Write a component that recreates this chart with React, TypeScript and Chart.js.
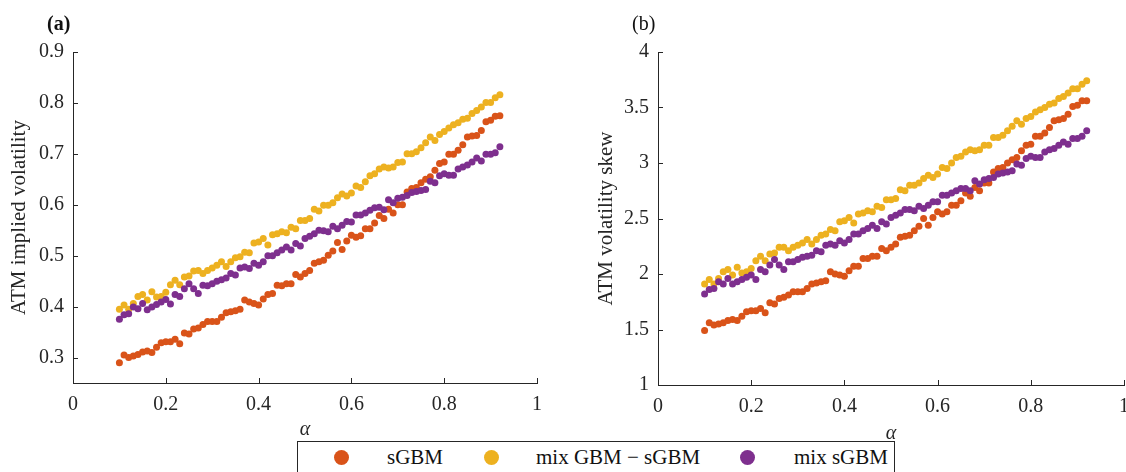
import React, { useEffect, useRef } from 'react';
import { Chart, registerables } from 'chart.js';

Chart.register(...registerables);

// ---------- data ----------
const alpha = [
  0.10, 0.11, 0.12, 0.13, 0.14, 0.15, 0.16, 0.17, 0.18, 0.19,
  0.20, 0.21, 0.22, 0.23, 0.24, 0.25, 0.26, 0.27, 0.28, 0.29,
  0.30, 0.31, 0.32, 0.33, 0.34, 0.35, 0.36, 0.37, 0.38, 0.39,
  0.40, 0.41, 0.42, 0.43, 0.44, 0.45, 0.46, 0.47, 0.48, 0.49,
  0.50, 0.51, 0.52, 0.53, 0.54, 0.55, 0.56, 0.57, 0.58, 0.59,
  0.60, 0.61, 0.62, 0.63, 0.64, 0.65, 0.66, 0.67, 0.68, 0.69,
  0.70, 0.71, 0.72, 0.73, 0.74, 0.75, 0.76, 0.77, 0.78, 0.79,
  0.80, 0.81, 0.82, 0.83, 0.84, 0.85, 0.86, 0.87, 0.88, 0.89,
  0.90, 0.91, 0.92,
];

// (a) ATM implied volatility
const volSGBM = [
  0.290, 0.305, 0.300, 0.303, 0.306, 0.311, 0.313, 0.310, 0.320, 0.329,
  0.331, 0.331, 0.336, 0.327, 0.348, 0.346, 0.356, 0.358, 0.365, 0.371,
  0.371, 0.371, 0.379, 0.388, 0.390, 0.392, 0.395, 0.413, 0.409, 0.406,
  0.403, 0.415, 0.424, 0.426, 0.442, 0.441, 0.445, 0.445, 0.463, 0.458,
  0.465, 0.471, 0.485, 0.488, 0.491, 0.501, 0.509, 0.526, 0.512, 0.529,
  0.540, 0.536, 0.539, 0.553, 0.553, 0.564, 0.579, 0.573, 0.591, 0.584,
  0.600, 0.600, 0.625, 0.632, 0.634, 0.643, 0.650, 0.655, 0.668, 0.681,
  0.684, 0.699, 0.699, 0.707, 0.718, 0.733, 0.735, 0.736, 0.746, 0.763,
  0.766, 0.774, 0.775,
];
const volMixGbmSgbm = [
  0.395, 0.403, 0.395, 0.406, 0.420, 0.424, 0.413, 0.429, 0.419, 0.420,
  0.428, 0.443, 0.452, 0.443, 0.458, 0.460, 0.470, 0.471, 0.465, 0.471,
  0.476, 0.481, 0.488, 0.479, 0.488, 0.496, 0.498, 0.507, 0.506, 0.525,
  0.527, 0.534, 0.521, 0.541, 0.543, 0.547, 0.545, 0.556, 0.553, 0.569,
  0.569, 0.573, 0.591, 0.588, 0.599, 0.599, 0.604, 0.614, 0.621, 0.617,
  0.623, 0.637, 0.634, 0.645, 0.657, 0.661, 0.670, 0.674, 0.672, 0.674,
  0.683, 0.684, 0.700, 0.700, 0.704, 0.712, 0.722, 0.733, 0.726, 0.738,
  0.744, 0.751, 0.757, 0.761, 0.768, 0.770, 0.779, 0.785, 0.792, 0.801,
  0.801, 0.810, 0.816,
];
const volMixSgbm = [
  0.375, 0.384, 0.386, 0.399, 0.396, 0.406, 0.394, 0.399, 0.404, 0.409,
  0.414, 0.405, 0.424, 0.420, 0.435, 0.445, 0.435, 0.426, 0.442, 0.441,
  0.445, 0.450, 0.453, 0.456, 0.465, 0.462, 0.476, 0.478, 0.475, 0.485,
  0.481, 0.488, 0.500, 0.500, 0.506, 0.511, 0.517, 0.511, 0.524, 0.519,
  0.534, 0.538, 0.543, 0.550, 0.549, 0.547, 0.558, 0.553, 0.560, 0.567,
  0.566, 0.580, 0.580, 0.584, 0.589, 0.594, 0.595, 0.590, 0.610, 0.604,
  0.613, 0.615, 0.618, 0.624, 0.626, 0.628, 0.630, 0.646, 0.643, 0.657,
  0.661, 0.658, 0.658, 0.670, 0.674, 0.678, 0.684, 0.692, 0.686, 0.699,
  0.699, 0.702, 0.714,
];

// (b) ATM volatility skew
const skewSGBM = [
  1.49, 1.56, 1.54, 1.55, 1.56, 1.58, 1.59, 1.58, 1.62, 1.66,
  1.67, 1.67, 1.69, 1.65, 1.74, 1.73, 1.78, 1.79, 1.81, 1.84,
  1.84, 1.84, 1.87, 1.91, 1.92, 1.93, 1.94, 2.02, 2.00, 1.99,
  1.98, 2.03, 2.07, 2.07, 2.14, 2.14, 2.16, 2.16, 2.23, 2.21,
  2.24, 2.27, 2.33, 2.34, 2.35, 2.39, 2.43, 2.50, 2.44, 2.51,
  2.56, 2.54, 2.56, 2.62, 2.62, 2.66, 2.73, 2.70, 2.78, 2.75,
  2.82, 2.82, 2.92, 2.95, 2.96, 3.00, 3.03, 3.05, 3.11, 3.16,
  3.17, 3.24, 3.24, 3.27, 3.32, 3.38, 3.39, 3.40, 3.44, 3.51,
  3.52, 3.56, 3.56,
];
const skewMixGbmSgbm = [
  1.91, 1.95, 1.91, 1.96, 2.02, 2.04, 1.99, 2.06, 2.01, 2.02,
  2.05, 2.12, 2.16, 2.12, 2.18, 2.19, 2.24, 2.24, 2.21, 2.24,
  2.26, 2.28, 2.31, 2.27, 2.31, 2.35, 2.36, 2.40, 2.39, 2.47,
  2.48, 2.51, 2.46, 2.54, 2.55, 2.57, 2.56, 2.61, 2.60, 2.67,
  2.67, 2.68, 2.76, 2.75, 2.80, 2.80, 2.82, 2.86, 2.89, 2.87,
  2.90, 2.96, 2.95, 3.00, 3.05, 3.06, 3.10, 3.12, 3.11, 3.12,
  3.16, 3.16, 3.23, 3.23, 3.25, 3.29, 3.33, 3.38, 3.35, 3.40,
  3.42, 3.46, 3.48, 3.50, 3.53, 3.54, 3.58, 3.60, 3.63, 3.67,
  3.67, 3.71, 3.74,
];
const skewMixSgbm = [
  1.82, 1.86, 1.87, 1.93, 1.91, 1.96, 1.91, 1.93, 1.95, 1.97,
  1.99, 1.95, 2.04, 2.02, 2.08, 2.13, 2.08, 2.04, 2.11, 2.11,
  2.13, 2.15, 2.16, 2.17, 2.21, 2.20, 2.26, 2.27, 2.26, 2.30,
  2.28, 2.31, 2.36, 2.36, 2.39, 2.41, 2.44, 2.41, 2.47, 2.45,
  2.51, 2.53, 2.55, 2.58, 2.58, 2.57, 2.61, 2.59, 2.62, 2.65,
  2.65, 2.71, 2.71, 2.73, 2.75, 2.77, 2.77, 2.75, 2.84, 2.81,
  2.85, 2.86, 2.87, 2.90, 2.91, 2.92, 2.93, 2.99, 2.98, 3.04,
  3.06, 3.05, 3.05, 3.10, 3.12, 3.13, 3.16, 3.19, 3.17, 3.22,
  3.22, 3.24, 3.29,
];

const xTicks = [0, 0.2, 0.4, 0.6, 0.8, 1];
const volTicks = [0.3, 0.4, 0.5, 0.6, 0.7, 0.8, 0.9];
const skewTicks = [1, 1.5, 2, 2.5, 3, 3.5, 4];

const seriesNames = ['sGBM', 'mix GBM \u2212 sGBM', 'mix sGBM'];
const seriesColors = ['#D95319', '#EDB120', '#7E2F8E'];

// ---------- styling ----------
const FONT = "'Liberation Serif', 'Times New Roman', serif";
const INK = '#262626';

const axisDecor = {
  id: 'axisDecor',
  afterDraw(chart: any) {
    const { ctx, chartArea, scales } = chart;
    const opts = chart.options.plugins.axisDecor || {};
    ctx.save();
    ctx.strokeStyle = INK;
    ctx.lineWidth = 1;
    const xs = scales.x;
    const ys = scales.y;
    ctx.beginPath();
    xs.ticks.forEach((t: any) => {
      const px = Math.round(xs.getPixelForValue(t.value)) + 0.5;
      ctx.moveTo(px, chartArea.bottom);
      ctx.lineTo(px, chartArea.bottom - 5);
    });
    ys.ticks.forEach((t: any) => {
      const py = Math.round(ys.getPixelForValue(t.value)) + 0.5;
      ctx.moveTo(chartArea.left, py);
      ctx.lineTo(chartArea.left + 5, py);
    });
    ctx.stroke();
    if (opts.label) {
      ctx.fillStyle = '#111';
      ctx.font = `${opts.bold ? 'bold ' : ''}20px ${FONT}`;
      ctx.textBaseline = 'middle';
      ctx.textAlign = 'left';
      ctx.fillText(opts.label, chartArea.left - 26, 25);
    }
    ctx.restore();
  },
};

function makeConfig(p: {
  series: number[][];
  yMin: number;
  yMax: number;
  yTicks: number[];
  yTitle: string;
  yWidth: number;
  yTitlePad: number;
  xHeight: number;
  padding: { left: number; top: number; right: number; bottom: number };
  label: string;
  bold: boolean;
}) {
  const datasets = p.series.map((vals, i) => ({
    label: seriesNames[i],
    data: alpha.map((a, j) => ({ x: a, y: vals[j] })),
    backgroundColor: seriesColors[i],
    borderColor: seriesColors[i],
    borderWidth: 0,
    pointRadius: 3.5,
    pointHoverRadius: 3.5,
    showLine: false,
    order: 3 - i,
  }));
  return {
    type: 'scatter' as const,
    data: { datasets },
    plugins: [axisDecor],
    options: {
      animation: false,
      responsive: false,
      maintainAspectRatio: false,
      events: [],
      layout: { padding: p.padding },
      plugins: {
        legend: { display: false },
        tooltip: { enabled: false },
        axisDecor: { label: p.label, bold: p.bold },
      },
      scales: {
        x: {
          type: 'linear',
          min: 0,
          max: 1,
          afterBuildTicks: (s: any) => {
            s.ticks = xTicks.map((v) => ({ value: v }));
          },
          afterFit: (s: any) => {
            s.height = p.xHeight;
          },
          ticks: {
            padding: 10,
            color: INK,
            font: { family: FONT, size: 20 },
            maxRotation: 0,
            autoSkip: false,
            callback: (v: any) => String(v),
          },
          grid: { display: true, drawOnChartArea: false, drawTicks: false },
          border: { display: true, color: INK, width: 1 },
          title: {
            display: true,
            text: '\u03B1',
            color: INK,
            font: { family: FONT, size: 20, style: 'italic' },
            padding: { top: 0, bottom: 0 },
          },
        },
        y: {
          type: 'linear',
          min: p.yMin,
          max: p.yMax,
          afterBuildTicks: (s: any) => {
            s.ticks = p.yTicks.map((v) => ({ value: v }));
          },
          afterFit: (s: any) => {
            s.width = p.yWidth;
          },
          ticks: {
            padding: 9,
            color: INK,
            font: { family: FONT, size: 20 },
            autoSkip: false,
            callback: (v: any) => String(v),
          },
          grid: { display: true, drawOnChartArea: false, drawTicks: false },
          border: { display: true, color: INK, width: 1 },
          title: {
            display: true,
            text: p.yTitle,
            color: INK,
            font: { family: FONT, size: 21 },
            padding: { top: p.yTitlePad, bottom: 0 },
          },
        },
      },
    },
  };
}

function Panel(props: { cfg: any; left: number; width: number; height: number }) {
  const ref = useRef<HTMLCanvasElement | null>(null);
  useEffect(() => {
    if (!ref.current) return;
    const chart = new Chart(ref.current, props.cfg);
    return () => chart.destroy();
  }, []);
  return (
    <canvas
      ref={ref}
      width={props.width}
      height={props.height}
      style={{ position: 'absolute', left: props.left, top: 0, width: props.width, height: props.height }}
    />
  );
}

const cfgA = makeConfig({
  series: [volSGBM, volMixGbmSgbm, volMixSgbm],
  yMin: 0.25,
  yMax: 0.9,
  yTicks: volTicks,
  yTitle: 'ATM implied volatility',
  yWidth: 73,
  yTitlePad: 7,
  xHeight: 59,
  padding: { left: 0, top: 52, right: 23, bottom: 30 },
  label: '(a)',
  bold: true,
});

const cfgB = makeConfig({
  series: [skewSGBM, skewMixGbmSgbm, skewMixSgbm],
  yMin: 1,
  yMax: 4,
  yTicks: skewTicks,
  yTitle: 'ATM volatility skew',
  yWidth: 88,
  yTitlePad: 24,
  xHeight: 61,
  padding: { left: 0, top: 52, right: 46, bottom: 26 },
  label: '(b)',
  bold: false,
});

const legendMarkers = [341, 491, 747];
const legendTexts = [387, 536, 794];

export default function App() {
  return (
    <div
      style={{
        position: 'fixed',
        left: 0,
        top: 0,
        width: 1126,
        height: 472,
        overflow: 'hidden',
        background: '#ffffff',
      }}
    >
      <Panel cfg={cfgA} left={0} width={560} height={472} />
      <Panel cfg={cfgB} left={570} width={600} height={472} />
      <div
        style={{
          position: 'absolute',
          left: 297,
          top: 441,
          width: 598,
          height: 44,
          border: `1px solid ${INK}`,
          boxSizing: 'border-box',
          background: '#fff',
        }}
      />
      {seriesNames.map((name, i) => (
        <React.Fragment key={name}>
          <div
            style={{
              position: 'absolute',
              left: legendMarkers[i] - 7.5,
              top: 457 - 7.5,
              width: 15,
              height: 15,
              borderRadius: '50%',
              background: seriesColors[i],
            }}
          />
          <div
            style={{
              position: 'absolute',
              left: legendTexts[i],
              top: 445,
              height: 24,
              lineHeight: '24px',
              fontFamily: FONT,
              fontSize: 21,
              color: '#111',
              whiteSpace: 'nowrap',
            }}
          >
            {name}
          </div>
        </React.Fragment>
      ))}
    </div>
  );
}
